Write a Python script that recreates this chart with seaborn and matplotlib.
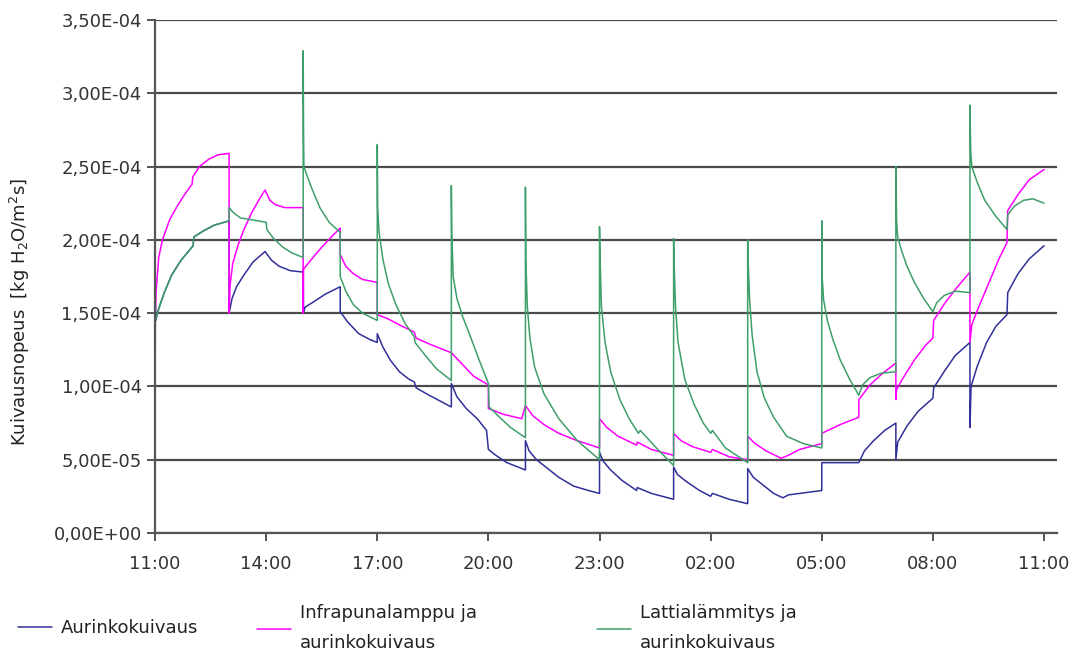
import numpy as np
import pandas as pd
import seaborn as sns
import matplotlib
matplotlib.use("Agg")
import matplotlib.pyplot as plt
from matplotlib.ticker import FuncFormatter, MultipleLocator

# hours from 11:00, values in 1e-4 kg H2O/m2s
aurinko_h = [0.0, 0.02, 0.1, 0.25, 0.45, 0.7, 1.03, 1.05, 1.3, 1.6, 2.0,
             2.0, 2.08, 2.2, 2.4, 2.65, 2.97, 3.15, 3.35, 3.65, 4.0,
             4.0, 4.01, 4.05, 4.3, 4.6, 5.0,
             5.0, 5.2, 5.5, 5.8, 6.0,
             6.0, 6.15, 6.35, 6.6, 6.85, 7.0, 7.05, 7.4, 7.7, 8.0,
             8.0, 8.15, 8.4, 8.7, 8.95, 9.0, 9.2, 9.5, 10.0,
             10.0, 10.1, 10.3, 10.6, 10.9, 11.3, 11.7, 12.0,
             12.0, 12.1, 12.3, 12.6, 13.0, 13.02, 13.4, 14.0,
             14.0, 14.1, 14.35, 14.7, 15.0, 15.05, 15.5, 16.0,
             16.0, 16.15, 16.4, 16.7, 16.95, 17.1, 17.4, 18.0,
             18.0, 19.0, 19.15, 19.4, 19.7, 20.0,
             20.0, 20.05, 20.3, 20.6, 21.0, 21.02, 21.3, 21.6, 22.0,
             22.0, 22.03, 22.2, 22.45, 22.7, 23.0, 23.02, 23.3, 23.6, 24.0]
aurinko_v = [1.70, 1.45, 1.53, 1.64, 1.76, 1.86, 1.96, 2.02, 2.06, 2.10, 2.13,
             1.50, 1.60, 1.68, 1.76, 1.85, 1.92, 1.86, 1.82, 1.79, 1.78,
             1.80, 1.50, 1.54, 1.58, 1.63, 1.68,
             1.51, 1.44, 1.36, 1.32, 1.30,
             1.36, 1.27, 1.18, 1.10, 1.05, 1.03, 0.99, 0.94, 0.90, 0.86,
             1.02, 0.93, 0.85, 0.78, 0.70, 0.57, 0.53, 0.48, 0.43,
             0.63, 0.56, 0.50, 0.44, 0.38, 0.32, 0.29, 0.27,
             0.55, 0.49, 0.43, 0.36, 0.29, 0.31, 0.27, 0.23,
             0.45, 0.40, 0.35, 0.29, 0.25, 0.27, 0.23, 0.20,
             0.44, 0.38, 0.33, 0.27, 0.24, 0.26, 0.27, 0.29,
             0.48, 0.48, 0.56, 0.63, 0.70, 0.75,
             0.50, 0.62, 0.73, 0.83, 0.92, 0.99, 1.10, 1.21, 1.30,
             0.72, 1.00, 1.14, 1.30, 1.41, 1.49, 1.64, 1.77, 1.87, 1.96]

infra_h = [0.0, 0.03, 0.1, 0.2, 0.4, 0.6, 0.8, 1.0, 1.02, 1.2, 1.45, 1.7, 2.0,
           2.0, 2.03, 2.1, 2.25, 2.4, 2.6, 2.8, 2.97, 3.1, 3.25, 3.5, 4.0,
           4.0, 4.01, 4.2, 4.5, 4.8, 5.0,
           5.0, 5.15, 5.35, 5.6, 6.0,
           6.0, 6.3, 6.6, 7.0, 7.05, 7.4, 7.7, 8.0,
           8.3, 8.6, 9.0, 9.0, 9.4, 9.9,
           10.0, 10.2, 10.5, 10.9, 11.4, 12.0,
           12.0, 12.2, 12.5, 13.0, 13.02, 13.4, 14.0,
           14.0, 14.2, 14.5, 15.0, 15.05, 15.5, 16.0,
           16.0, 16.2, 16.5, 16.9, 17.1, 17.4, 17.7, 18.0,
           18.0, 18.5, 19.0,
           19.0, 19.3, 19.6, 20.0,
           20.0, 20.02, 20.2, 20.5, 20.8, 21.0, 21.02, 21.3, 21.6, 22.0,
           22.0, 22.05, 22.2, 22.4, 22.6, 22.8, 23.0, 23.02, 23.3, 23.6, 24.0]
infra_v = [1.43, 1.65, 1.88, 2.00, 2.14, 2.23, 2.31, 2.38, 2.43, 2.50, 2.55, 2.58, 2.59,
           1.50, 1.70, 1.84, 1.97, 2.07, 2.18, 2.27, 2.34, 2.27, 2.24, 2.22, 2.22,
           1.50, 1.80, 1.86, 1.95, 2.03, 2.08,
           1.90, 1.82, 1.77, 1.73, 1.71,
           1.49, 1.46, 1.42, 1.37, 1.33, 1.29, 1.26, 1.23,
           1.15, 1.07, 1.01, 0.85, 0.81, 0.78,
           0.87, 0.80, 0.74, 0.68, 0.63, 0.58,
           0.78, 0.72, 0.66, 0.60, 0.62, 0.57, 0.53,
           0.68, 0.63, 0.59, 0.55, 0.57, 0.52, 0.50,
           0.66, 0.61, 0.56, 0.51, 0.53, 0.57, 0.59, 0.61,
           0.68, 0.74, 0.79,
           0.91, 1.01, 1.08, 1.16,
           0.91, 0.98, 1.06, 1.18, 1.28, 1.33, 1.45, 1.56, 1.66, 1.78,
           1.30, 1.42, 1.52, 1.64, 1.76, 1.88, 1.98, 2.20, 2.31, 2.41, 2.48]

latti_h = [0.0, 0.01, 0.1, 0.25, 0.45, 0.7, 1.03, 1.05, 1.3, 1.6, 2.0,
           2.0, 2.1, 2.3, 3.0, 3.02, 3.2, 3.45, 3.7, 4.0,
           4.0, 4.01, 4.02, 4.1, 4.25, 4.45, 4.7, 5.0,
           5.0, 5.15, 5.35, 5.6, 6.0,
           6.0, 6.01, 6.05, 6.15, 6.3, 6.5, 6.75, 7.0, 7.02, 7.3, 7.6, 8.0,
           8.0, 8.01, 8.05, 8.15, 8.3, 8.5, 8.75, 9.0, 9.02, 9.3, 9.6, 10.0,
           10.0, 10.01, 10.05, 10.12, 10.25, 10.5, 10.9, 11.4, 12.0,
           12.0, 12.01, 12.05, 12.15, 12.3, 12.55, 12.8, 13.05, 13.1, 13.5, 14.0,
           14.0, 14.01, 14.05, 14.12, 14.3, 14.55, 14.8, 15.0, 15.05, 15.4, 16.0,
           16.0, 16.01, 16.05, 16.12, 16.25, 16.45, 16.7, 17.05, 17.5, 18.0,
           18.0, 18.01, 18.05, 18.15, 18.3, 18.5, 18.75, 19.0,
           19.1, 19.3, 19.6, 20.0,
           20.0, 20.02, 20.05, 20.15, 20.3, 20.5, 20.75, 21.0, 21.1, 21.3, 21.6, 22.0,
           22.0, 22.02, 22.05, 22.2, 22.4, 22.7, 23.0, 23.02, 23.2, 23.45, 23.7, 24.0]
latti_v = [0.85, 1.45, 1.53, 1.64, 1.76, 1.86, 1.96, 2.02, 2.06, 2.10, 2.13,
           2.22, 2.19, 2.15, 2.12, 2.07, 2.01, 1.95, 1.91, 1.88,
           3.29, 2.75, 2.50, 2.44, 2.34, 2.22, 2.12, 2.05,
           1.75, 1.65, 1.56, 1.50, 1.45,
           2.65, 2.22, 2.05, 1.87, 1.70, 1.56, 1.43, 1.34, 1.30, 1.21, 1.12, 1.04,
           2.37, 2.07, 1.75, 1.60, 1.48, 1.35, 1.18, 1.02, 0.86, 0.79, 0.72, 0.65,
           2.36, 1.88, 1.55, 1.33, 1.13, 0.95, 0.78, 0.63, 0.50,
           2.09, 1.93, 1.55, 1.30, 1.10, 0.91, 0.78, 0.68, 0.70, 0.59, 0.46,
           2.01, 1.88, 1.55, 1.30, 1.05, 0.88, 0.75, 0.68, 0.70, 0.58, 0.48,
           2.00, 1.88, 1.60, 1.35, 1.10, 0.92, 0.79, 0.66, 0.61, 0.58,
           2.13, 1.75, 1.59, 1.45, 1.32, 1.18, 1.05, 0.94,
           1.01, 1.06, 1.09, 1.10,
           2.50, 2.13, 2.02, 1.93, 1.82, 1.71, 1.60, 1.51, 1.57, 1.62, 1.65, 1.64,
           2.92, 2.61, 2.50, 2.39, 2.27, 2.16, 2.07, 2.17, 2.23, 2.27, 2.28, 2.25]

sarjat = ["Aurinkokuivaus", "Infrapunalamppu ja\naurinkokuivaus",
          "Lattialämmitys ja\naurinkokuivaus"]
varit = ["#30309a", "#ff00ff", "#3f9f6a"]
xtick_labels = ["11:00", "14:00", "17:00", "20:00", "23:00", "02:00", "05:00", "08:00", "11:00"]

osat = []
for nimi, h, v in zip(sarjat, [aurinko_h, infra_h, latti_h], [aurinko_v, infra_v, latti_v]):
    osat.append(pd.DataFrame({"aika": h, "nopeus": np.array(v) * 1e-4, "sarja": nimi}))
df = pd.concat(osat, ignore_index=True)

sns.set_style("white")
plt.rcParams["font.family"] = ["DejaVu Sans"]

fig = plt.figure(figsize=(10.78, 6.59), dpi=100)
ax = fig.add_axes([155 / 1078, 1 - 533 / 659, 902 / 1078, 513 / 659])

sns.lineplot(data=df, x="aika", y="nopeus", hue="sarja", palette=dict(zip(sarjat, varit)),
             sort=False, estimator=None, lw=1.1, ax=ax)

ax.set_xlim(0, 24.35)
ax.set_ylim(0, 3.5e-4)
ax.yaxis.set_major_locator(MultipleLocator(0.5e-4))
ax.yaxis.set_major_formatter(FuncFormatter(lambda v, p: f"{v:.2E}".replace(".", ",")))
ax.set_xticks(range(0, 25, 3))
ax.set_xticklabels(xtick_labels)
ax.set_axisbelow(True)
ax.yaxis.grid(True, color="#4a4a4a", lw=1.6)
ax.xaxis.grid(False)
for s in ["top", "right"]:
    ax.spines[s].set_visible(False)
for s in ["left", "bottom"]:
    ax.spines[s].set_color("#555555")
    ax.spines[s].set_linewidth(1.6)
ax.tick_params(axis="both", direction="out", length=6, width=1.4, color="#555555",
               labelsize=13, labelcolor="#333333", left=True, bottom=True)
ax.tick_params(axis="x", pad=10)
ax.set_xlabel("")
ax.set_ylabel("Kuivausnopeus  [kg H$_2$O/m$^2$s]", fontsize=13, color="#222222")
ax.yaxis.set_label_coords(-0.136, 0.43)

kahvat, nimet = ax.get_legend_handles_labels()
ax.get_legend().remove()
for kahva, nimi, x0 in zip(kahvat, nimet, [18, 257, 597]):
    leg = fig.legend([kahva], [nimi], loc="center left", bbox_to_anchor=(x0 / 1078, 1 - 628 / 659),
                     frameon=False, borderpad=0, borderaxespad=0, handlelength=1.9,
                     handletextpad=0.5, fontsize=13)
    for t in leg.get_texts():
        t.set_linespacing(1.9)
        t.set_color("#222222")

fig.savefig("out.png", dpi=100)
